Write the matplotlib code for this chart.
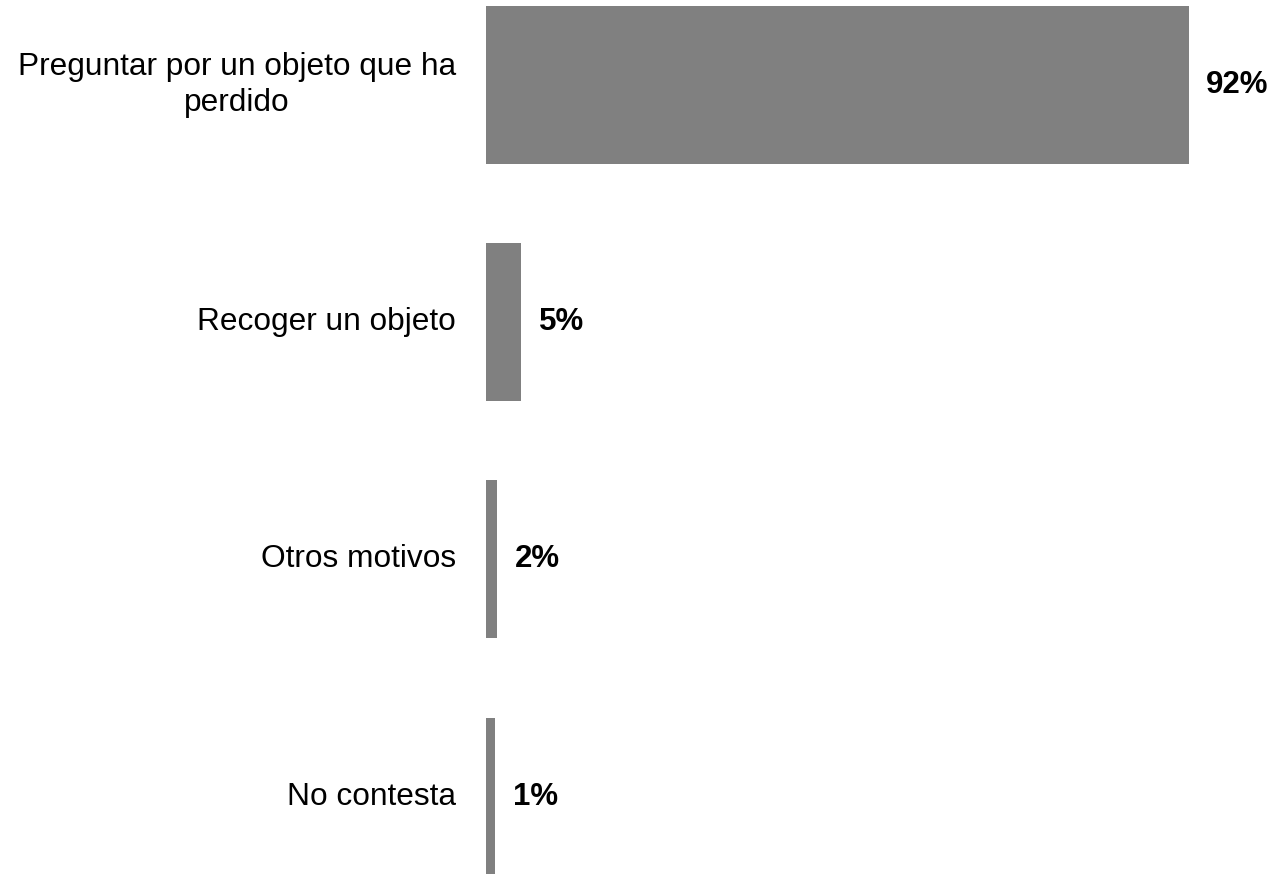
import matplotlib
matplotlib.use("Agg")
import matplotlib.pyplot as plt

categories = ["Preguntar por un objeto que ha\nperdido", "Recoger un objeto", "Otros motivos", "No contesta"]
values = [92.0, 4.6, 1.5, 1.2]
value_labels = ["92%", "5%", "2%", "1%"]

plt.rcParams['font.family'] = ['Liberation Sans', 'DejaVu Sans']

W, H = 1274, 874
fig = plt.figure(figsize=(W / 100, H / 100), dpi=100)
left_px = 486
ax = fig.add_axes([left_px / W, 0, 1 - left_px / W, 1])

px_per_unit = 702.7 / 92.0
ax.set_xlim(0, (W - left_px) / px_per_unit)
step = 237.2
c0 = 85.0
ax.set_ylim((H - c0) / step, -c0 / step)

ypos = list(range(len(categories)))
ax.barh(ypos, values, height=0.666, color="#808080", edgecolor="none")

for y, v, lab in zip(ypos, values, value_labels):
    ax.annotate(lab, xy=(v, y), xytext=(12.5, 0), textcoords="offset points",
                ha="left", va="center", fontsize=22.5, fontweight="bold", color="black")

for y, cat in zip(ypos, categories):
    ax.annotate(cat, xy=(0, y), xycoords=("axes fraction", "data"),
                xytext=(-21.5, 0), textcoords="offset points",
                ha="right", va="center", multialignment="center",
                fontsize=22.8, color="black", linespacing=1.3,
                annotation_clip=False)

ax.set_xticks([])
ax.set_yticks([])
for s in ax.spines.values():
    s.set_visible(False)

fig.savefig("out.png", dpi=100)
